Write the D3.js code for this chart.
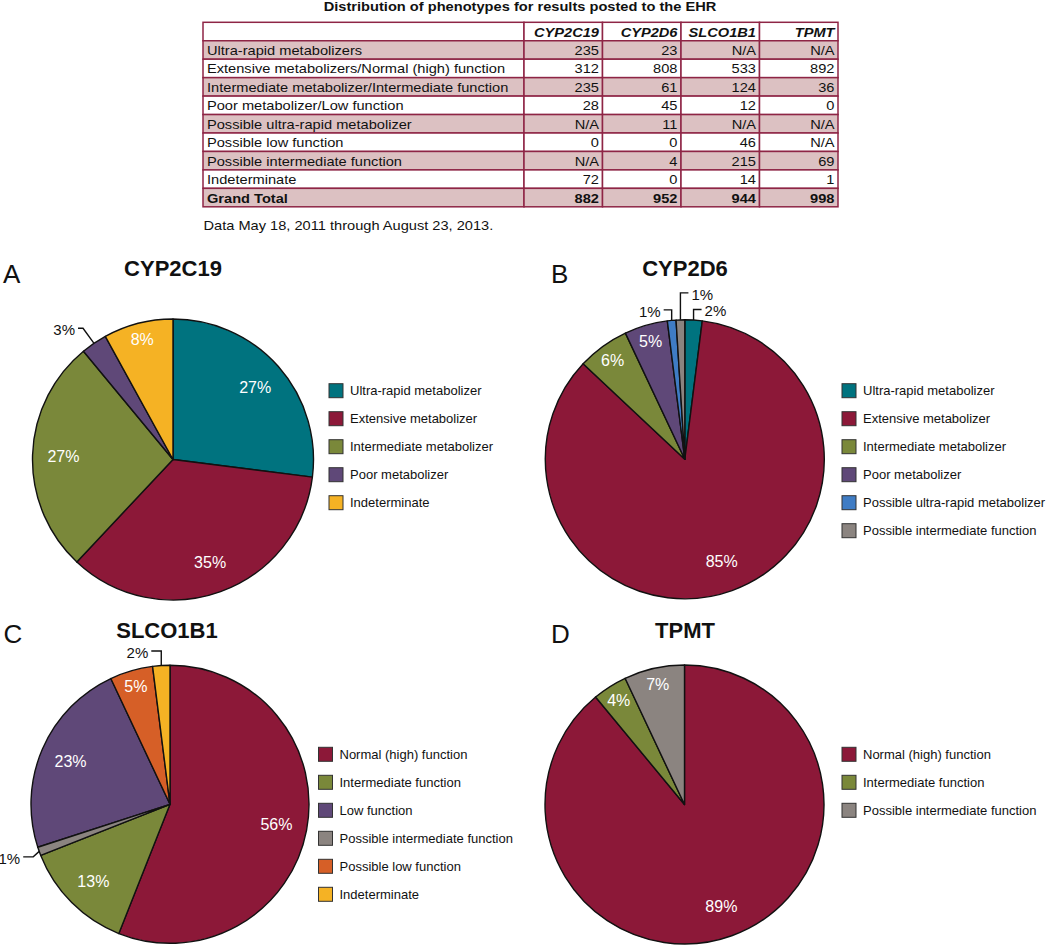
<!DOCTYPE html>
<html>
<head>
<meta charset="utf-8">
<script src="https://cdn.jsdelivr.net/npm/d3@7"></script>
<style>
  html, body { margin: 0; padding: 0; background: #fff; }
  svg { display: block; font-family: "Liberation Sans", Arial, Helvetica, sans-serif; }
</style>
</head>
<body>
<svg id="chart" width="1050" height="946"></svg>
<script>
// ---------------- DATA ----------------
const tableTitle = "Distribution of phenotypes for results posted to the EHR";
const tableNote = "Data May 18, 2011 through August 23, 2013.";
const geneColumns = ["CYP2C19", "CYP2D6", "SLCO1B1", "TPMT"];
const phenotypeRows = [
  "Ultra-rapid metabolizers",
  "Extensive metabolizers/Normal (high) function",
  "Intermediate metabolizer/Intermediate function",
  "Poor metabolizer/Low function",
  "Possible ultra-rapid metabolizer",
  "Possible low function",
  "Possible intermediate function",
  "Indeterminate",
  "Grand Total"
];
const cyp2c19Counts = ["235", "312", "235", "28", "N/A", "0", "N/A", "72", "882"];
const cyp2d6Counts  = ["23", "808", "61", "45", "11", "0", "4", "0", "952"];
const slco1b1Counts = ["N/A", "533", "124", "12", "N/A", "46", "215", "14", "944"];
const tpmtCounts    = ["N/A", "892", "36", "0", "N/A", "N/A", "69", "1", "998"];

// Pie charts (percentages as shown; legend order)
const panelLetters = ["A", "B", "C", "D"];
const pieTitles = ["CYP2C19", "CYP2D6", "SLCO1B1", "TPMT"];

const cyp2c19Phenotypes = ["Ultra-rapid metabolizer", "Extensive metabolizer", "Intermediate metabolizer", "Poor metabolizer", "Indeterminate"];
const cyp2c19Pct = [27, 35, 27, 3, 8];
const cyp2c19SliceOrder = [0, 1, 2, 3, 4];

const cyp2d6Phenotypes = ["Ultra-rapid metabolizer", "Extensive metabolizer", "Intermediate metabolizer", "Poor metabolizer", "Possible ultra-rapid metabolizer", "Possible intermediate function"];
const cyp2d6Pct = [2, 85, 6, 5, 1, 1];
const cyp2d6SliceOrder = [0, 1, 2, 3, 4, 5];

const slco1b1Phenotypes = ["Normal (high) function", "Intermediate function", "Low function", "Possible intermediate function", "Possible low function", "Indeterminate"];
const slco1b1Pct = [56, 13, 23, 1, 5, 2];
const slco1b1SliceOrder = [0, 1, 3, 2, 4, 5];

const tpmtPhenotypes = ["Normal (high) function", "Intermediate function", "Possible intermediate function"];
const tpmtPct = [89, 4, 7];
const tpmtSliceOrder = [0, 1, 2];

const phenotypeNames = ["Ultra-rapid metabolizer", "Extensive metabolizer", "Intermediate metabolizer", "Poor metabolizer", "Indeterminate",
  "Possible ultra-rapid metabolizer", "Possible intermediate function", "Normal (high) function", "Intermediate function", "Low function", "Possible low function"];
const phenotypeColors = ["#00737f", "#8c1838", "#7a883a", "#5f4878", "#f5b224",
  "#3f7cc4", "#8b8480", "#8c1838", "#7a883a", "#5f4878", "#d65f27"];

// ---------------- LAYOUT ----------------
const svg = d3.select("#chart");
const FONT_TABLE = 12.5, SX = 1.17;
const border = "#8e2545", shade = "#dcc1c2";

// Table
const tLeft = 203, tTop = 22.3, labelW = 321, colW = 78.5, rowH = 18.45;
const columnsData = [cyp2c19Counts, cyp2d6Counts, slco1b1Counts, tpmtCounts];
const xCol = d3.scaleBand().domain(geneColumns).range([tLeft + labelW, tLeft + labelW + colW * geneColumns.length]);
const yRow = d3.scaleBand().domain(["header"].concat(phenotypeRows)).range([tTop, tTop + rowH * (phenotypeRows.length + 1)]);

svg.append("text")
  .attr("transform", `translate(${520},${10.8}) scale(1.22,1)`)
  .attr("text-anchor", "middle").attr("font-weight", "bold").attr("font-size", 12)
  .attr("fill", "#111").text(tableTitle);

const tbl = svg.append("g");
const rowKeys = ["header"].concat(phenotypeRows);
rowKeys.forEach((rk, ri) => {
  const y = yRow(rk);
  const shaded = ri > 0 && (ri % 2 === 1 || rk === "Grand Total");
  const fill = shaded ? shade : "#fff";
  tbl.append("rect").attr("x", tLeft).attr("y", y).attr("width", labelW).attr("height", rowH)
    .attr("fill", fill).attr("stroke", border).attr("stroke-width", 1.5);
  geneColumns.forEach(g => {
    tbl.append("rect").attr("x", xCol(g)).attr("y", y).attr("width", xCol.bandwidth()).attr("height", rowH)
      .attr("fill", fill).attr("stroke", border).attr("stroke-width", 1.5);
  });
});
// header
geneColumns.forEach(g => {
  tbl.append("text")
    .attr("transform", `translate(${xCol(g) + xCol.bandwidth() - 3.5},${yRow("header") + 14.2}) scale(${SX},1)`)
    .attr("text-anchor", "end").attr("font-weight", "bold").attr("font-style", "italic")
    .attr("font-size", FONT_TABLE).attr("fill", "#111").text(g);
});
phenotypeRows.forEach((rk, i) => {
  const bold = rk === "Grand Total";
  tbl.append("text")
    .attr("transform", `translate(${tLeft + 4},${yRow(rk) + 14.2}) scale(${SX},1)`)
    .attr("font-size", FONT_TABLE).attr("font-weight", bold ? "bold" : "normal")
    .attr("fill", "#111").text(rk);
  geneColumns.forEach((g, ci) => {
    tbl.append("text")
      .attr("transform", `translate(${xCol(g) + xCol.bandwidth() - 3.5},${yRow(rk) + 14.2}) scale(${SX},1)`)
      .attr("text-anchor", "end").attr("font-size", FONT_TABLE).attr("font-weight", bold ? "bold" : "normal")
      .attr("fill", "#111").text(columnsData[ci][i]);
  });
});
svg.append("text")
  .attr("transform", `translate(${203.5},${229.5}) scale(${SX},1)`)
  .attr("font-size", FONT_TABLE).attr("fill", "#111").text(tableNote);

// Pies
const color = d3.scaleOrdinal().domain(phenotypeNames).range(phenotypeColors);

const pies = [
  { names: cyp2c19Phenotypes, pct: cyp2c19Pct, order: cyp2c19SliceOrder,
    cx: 173, cy: 459.5, r: 140.5, legX: 329, legY: 390.7, titleX: 173, titleY: 276, letterX: 3, letterY: 283,
    callouts: [{ i: 3, ex: -11, ey: -15, run: -5 }] },
  { names: cyp2d6Phenotypes, pct: cyp2d6Pct, order: cyp2d6SliceOrder,
    cx: 684.8, cy: 459.3, r: 139.5, legX: 842, legY: 390.7, titleX: 685, titleY: 276, letterX: 551, letterY: 283,
    callouts: [{ i: 4, ex: 0, ey: -10.5, run: -8 }, { i: 5, ex: 0, ey: -27, run: 8 }, { i: 0, ex: 0, ey: -10.5, run: 8 }] },
  { names: slco1b1Phenotypes, pct: slco1b1Pct, order: slco1b1SliceOrder,
    cx: 170, cy: 804.3, r: 139, legX: 318.5, legY: 754.3, titleX: 167, titleY: 638.3, letterX: 3.5, letterY: 643,
    callouts: [{ i: 5, ex: 0, ey: -14.5, run: -10 }, { i: 3, ex: -6, ey: 5.5, run: -10 }] },
  { names: tpmtPhenotypes, pct: tpmtPct, order: tpmtSliceOrder,
    cx: 684.5, cy: 804.5, r: 139.5, legX: 842, legY: 754.3, titleX: 685, titleY: 638, letterX: 551, letterY: 643,
    callouts: [] }
];

pies.forEach((p, pi) => {
  const items = p.names.map((n, i) => ({ name: n, value: p.pct[i], idx: i, rank: p.order.indexOf(i) }));
  const pieGen = d3.pie().value(d => d.value).sort((a, b) => a.rank - b.rank);
  const arcs = pieGen(items);
  const arc = d3.arc().innerRadius(0).outerRadius(p.r);
  const g = svg.append("g").attr("transform", `translate(${p.cx},${p.cy})`);

  g.selectAll("path.slice").data(arcs).join("path")
    .attr("class", "slice")
    .attr("d", arc)
    .attr("fill", d => color(d.data.name))
    .attr("stroke", "#111").attr("stroke-width", 1.4).attr("stroke-linejoin", "round");

  const calloutIdx = p.callouts.map(c => c.i);
  arcs.forEach(a => {
    if (calloutIdx.includes(a.data.idx)) return;
    const frac = a.data.value >= 10 ? 0.78 : 0.88;
    const la = d3.arc().innerRadius(p.r * frac).outerRadius(p.r * frac);
    const [x, y] = la.centroid(a);
    g.append("text").attr("x", x).attr("y", y).attr("dy", "0.35em")
      .attr("text-anchor", "middle").attr("font-size", 16).attr("fill", "#fff")
      .text(a.data.value + "%");
  });

  p.callouts.forEach(c => {
    const a = arcs.find(d => d.data.idx === c.i);
    const mid = (a.startAngle + a.endAngle) / 2;
    const p0 = [Math.sin(mid) * p.r, -Math.cos(mid) * p.r];
    const p1 = [p0[0] + c.ex, p0[1] + c.ey];
    const p2 = [p1[0] + c.run, p1[1]];
    g.append("path").attr("d", d3.line()([p0, p1, p2]))
      .attr("fill", "none").attr("stroke", "#111").attr("stroke-width", 1.4);
    g.append("text")
      .attr("x", p2[0] + (c.run < 0 ? -3 : 3)).attr("y", p2[1] + 6.8)
      .attr("text-anchor", c.run < 0 ? "end" : "start")
      .attr("font-size", 15).attr("fill", "#111").text(a.data.value + "%");
  });

  // title and panel letter
  svg.append("text").attr("x", p.titleX).attr("y", p.titleY).attr("text-anchor", "middle")
    .attr("font-weight", "bold").attr("font-size", 22).attr("fill", "#111").text(pieTitles[pi]);
  svg.append("text").attr("x", p.letterX).attr("y", p.letterY)
    .attr("font-size", 26).attr("fill", "#111").text(panelLetters[pi]);

  // legend
  const lg = svg.append("g").attr("transform", `translate(${p.legX},${p.legY})`);
  const yLeg = d3.scalePoint().domain(p.names).range([0, 28 * (p.names.length - 1)]);
  p.names.forEach(n => {
    lg.append("rect").attr("x", 0).attr("y", yLeg(n) - 7).attr("width", 14).attr("height", 14)
      .attr("fill", color(n)).attr("stroke", "#333").attr("stroke-width", 1);
    lg.append("text").attr("x", 21).attr("y", yLeg(n) + 4.7)
      .attr("font-size", 13).attr("fill", "#111").text(n);
  });
});
</script>
</body>
</html>
